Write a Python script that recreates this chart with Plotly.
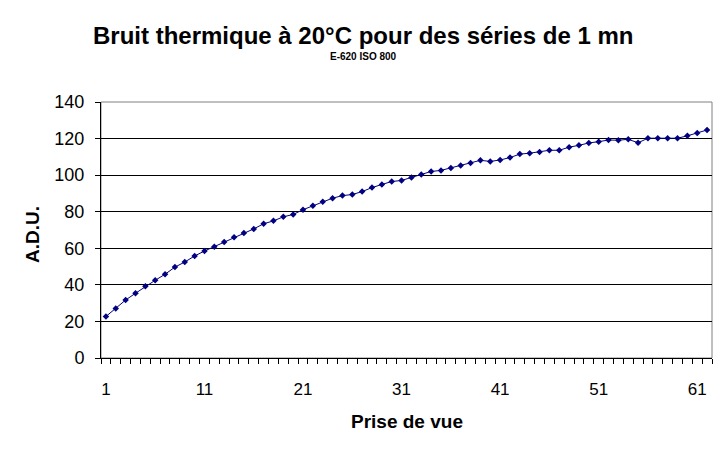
import plotly.graph_objects as go

prise = list(range(1, 63))
adu = [22.7, 27.1, 31.7, 35.4, 39.2, 42.5, 45.8, 49.7, 52.5, 55.8,
       58.5, 60.9, 63.5, 66.0, 68.4, 70.6, 73.4, 75.0, 77.2, 78.5,
       81.1, 83.3, 85.5, 87.4, 88.8, 89.4, 91.0, 93.2, 94.9, 96.5,
       97.1, 98.7, 100.4, 102.0, 102.6, 103.9, 105.3, 106.6, 108.1, 107.5,
       108.3, 109.6, 111.5, 112.0, 112.7, 113.6, 113.6, 115.3, 116.3, 117.6,
       118.3, 119.2, 119.1, 119.6, 117.7, 120.2, 120.2, 120.2, 120.2, 121.5,
       123.1, 124.7]
x_labels = [1, 11, 21, 31, 41, 51, 61]
y_ticks = [0, 20, 40, 60, 80, 100, 120, 140]

title = "Bruit thermique à 20°C pour des séries de 1 mn"
subtitle = "E-620 ISO 800"

FONT = "Liberation Sans, Arial, sans-serif"
NAVY = "#000080"

fig = go.Figure()
fig.add_trace(go.Scatter(
    x=prise, y=adu, mode="lines+markers",
    line=dict(color=NAVY, width=1),
    marker=dict(symbol="diamond", size=5, color=NAVY),
    showlegend=False,
))

fig.update_layout(
    width=725, height=453,
    margin=dict(l=101, r=13, t=102, b=95, autoexpand=False),
    paper_bgcolor="white", plot_bgcolor="white",
    font=dict(family=FONT, color="black", size=17),
    annotations=[
        dict(text="<b>" + title + "</b>", xref="paper", yref="paper",
             x=(362.5 - 101) / 611, y=1 + (102 - 35) / 256, showarrow=False,
             font=dict(size=24, family=FONT), xanchor="center", yanchor="middle"),
        dict(text="<b>" + subtitle + "</b>", xref="paper", yref="paper",
             x=(363 - 101) / 611, y=1 + (102 - 56) / 256, showarrow=False,
             font=dict(size=10, family=FONT), xanchor="center", yanchor="middle"),
        dict(text="<b>A.D.U.</b>", xref="paper", yref="paper",
             x=(32 - 101) / 611, y=(358 - 235) / 256, showarrow=False, textangle=-90,
             font=dict(size=19, family=FONT), xanchor="center", yanchor="middle"),
        dict(text="<b>Prise de vue</b>", xref="paper", yref="paper",
             x=(407 - 101) / 611, y=-(421 - 358) / 256, showarrow=False,
             font=dict(size=19, family=FONT), xanchor="center", yanchor="middle"),
    ],
    shapes=[dict(type="rect", xref="paper", yref="paper", x0=0, y0=0, x1=1, y1=1,
                 line=dict(color="#808080", width=1), layer="between")],
)

fig.update_xaxes(
    range=[0.5, 62.5], tickmode="array", tickvals=x_labels,
    ticktext=[str(v) for v in x_labels], ticks="", ticklabelstandoff=16,
    showgrid=False, zeroline=False, showline=True, linecolor="black", linewidth=1,
    tickfont=dict(size=17),
    minor=dict(tickmode="array", tickvals=[i + 0.5 for i in range(0, 63)],
               ticks="outside", ticklen=5, tickcolor="black", tickwidth=1, showgrid=False),
)
fig.update_yaxes(
    range=[0, 140], tickmode="array", tickvals=y_ticks,
    ticks="outside", ticklen=5, tickcolor="black",
    showgrid=True, gridcolor="black", gridwidth=1, zeroline=False,
    showline=True, linecolor="black", linewidth=1,
    tickfont=dict(size=18), ticklabelstandoff=7,
)

fig.write_html("out.html", config={"displayModeBar": False},
               post_script="document.body.style.margin='0';document.body.style.overflow='hidden';")
